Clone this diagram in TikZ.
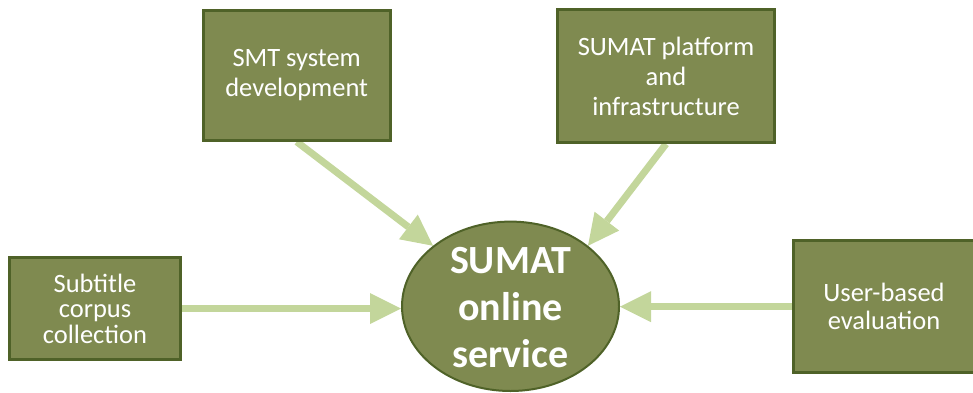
\documentclass[tikz,border=0pt]{standalone}
\usepackage{fontspec}
\setmainfont{Carlito}
\usetikzlibrary{arrows.meta,shapes.geometric,backgrounds}
\definecolor{boxfill}{RGB}{127,138,80}
\definecolor{boxline}{RGB}{79,98,40}
\definecolor{arrowgreen}{RGB}{195,214,155}
\begin{document}
\begin{tikzpicture}[x=1pt,y=1pt,
  task/.style={draw=boxline, fill=boxfill, line width=3pt, text=white,
    align=center, inner sep=0pt, font=\fontsize{26.5}{30}\selectfont},
  hub/.style={ellipse, draw=boxline, fill=boxfill, line width=2pt,
    inner sep=0pt, minimum width=217pt, minimum height=169.4pt},
  hubtext/.style={text=white, align=center, inner sep=0pt,
    font=\fontsize{40}{47}\selectfont\bfseries},
  feed/.style={draw=arrowgreen, line width=7pt,
    -{Triangle[length=31pt,width=31pt,line width=0pt]}}]
\useasboundingbox (0,0) rectangle (973,392);

% central service
\node[hub] (hub) at (510.5,85.7) {};
\node[hubtext] (hubtext) at ([yshift=-1pt]hub.center) {SUMAT\\online\\service};

% contributing work packages
\node[task, minimum width=187pt, minimum height=129.5pt] (smt) at (296.7,316.5)
  {SMT system\\development};
\node[task, minimum width=217pt, minimum height=132.5pt] (plat) at (666,315.8)
  {SUMAT platform\\and\\infrastructure};
\node[task, minimum width=170.5pt, minimum height=102.3pt,
  font=\fontsize{26.5}{25.5}\selectfont] (sub) at (95,83.5)
  {Subtitle\\corpus\\collection};
\node[task, minimum width=181pt, minimum height=131.7pt,
  font=\fontsize{26.5}{28}\selectfont] (user) at (884,85.3)
  {User-based\\evaluation};

% arrows into the service
\begin{scope}[on background layer]
  \draw[feed] (smt.south) -- (hub.142);
  \draw[feed] (plat.south) -- (hub.38);
  \draw[feed] (sub.east) -- (sub.east -| hub.west);
  \draw[feed] (user.west) -- (user.west -| hub.east);
\end{scope}
\end{tikzpicture}
\end{document}
